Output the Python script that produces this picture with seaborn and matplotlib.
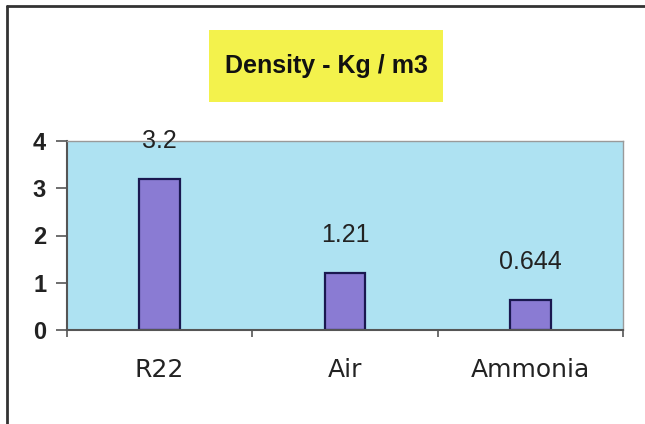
import matplotlib
matplotlib.use("Agg")
import matplotlib.pyplot as plt
import seaborn as sns
import pandas as pd
from matplotlib.patches import Rectangle
from matplotlib.lines import Line2D

# chart data
gases = ["R22", "Air", "Ammonia"]
density = [3.2, 1.21, 0.644]
value_labels = ["3.2", "1.21", "0.644"]
y_ticks = [0, 1, 2, 3, 4]
title = "Density - Kg / m3"

df = pd.DataFrame({"gas": gases, "density": density})

sns.set_style("white")
plt.rcParams["font.family"] = ["Liberation Sans", "DejaVu Sans"]

fig = plt.figure(figsize=(6.45, 4.24), dpi=100)
fig.patch.set_facecolor("white")
ax = fig.add_axes([67 / 645, 1 - 330 / 424, 556 / 645, 189 / 424])
ax.set_facecolor("#aee2f2")

sns.barplot(data=df, x="gas", y="density", order=gases, color="#8a7bd3",
            saturation=1, width=0.22, edgecolor="#1a1850", linewidth=1.6, ax=ax)

# value labels above bars
for i, (v, lab) in enumerate(zip(density, value_labels)):
    ax.annotate(lab, (i, v), xytext=(0, 27), textcoords="offset points",
                ha="center", va="center", fontsize=18, color="#222222")

ax.set_xlim(-0.5, len(gases) - 0.5)
ax.set_ylim(0, 4)
ax.set_yticks(y_ticks)
ax.set_yticklabels([str(t) for t in y_ticks], fontsize=17, fontweight="bold",
                   color="#222222")
ax.set_xlabel("")
ax.set_ylabel("")

# category labels, ticks sit between categories
ax.set_xticks(range(len(gases)))
ax.set_xticklabels(gases, fontsize=18, family="DejaVu Sans", color="#222222")
ax.set_xticks([i - 0.5 for i in range(len(gases) + 1)], minor=True)
ax.tick_params(axis="x", which="major", length=0, pad=20)
ax.tick_params(axis="x", which="minor", length=5, width=1.2, color="#555555",
               direction="out", bottom=True)
ax.tick_params(axis="y", length=8, width=1.2, color="#555555", direction="out",
               left=True, pad=7)

for side in ["top", "right"]:
    ax.spines[side].set_color("#9a9a9a")
    ax.spines[side].set_linewidth(1.0)
for side in ["left", "bottom"]:
    ax.spines[side].set_color("#555555")
    ax.spines[side].set_linewidth(1.5)

# yellow highlighted title
fig.patches.append(Rectangle((209 / 645, 1 - 102 / 424), 234 / 645, 72 / 424,
                             transform=fig.transFigure, facecolor="#f3f24c",
                             edgecolor="none", zorder=0))
fig.text(326 / 645, 1 - 66 / 424, title, ha="center", va="center",
         fontsize=18, fontweight="bold", color="#111111")

# chart frame (left and top edges visible)
fig.lines.append(Line2D([7 / 645, 1], [1 - 6 / 424, 1 - 6 / 424],
                        transform=fig.transFigure, color="#333333", lw=2))
fig.lines.append(Line2D([7 / 645, 7 / 645], [0, 1 - 6 / 424],
                        transform=fig.transFigure, color="#333333", lw=2))

fig.savefig("out.png", dpi=100)
